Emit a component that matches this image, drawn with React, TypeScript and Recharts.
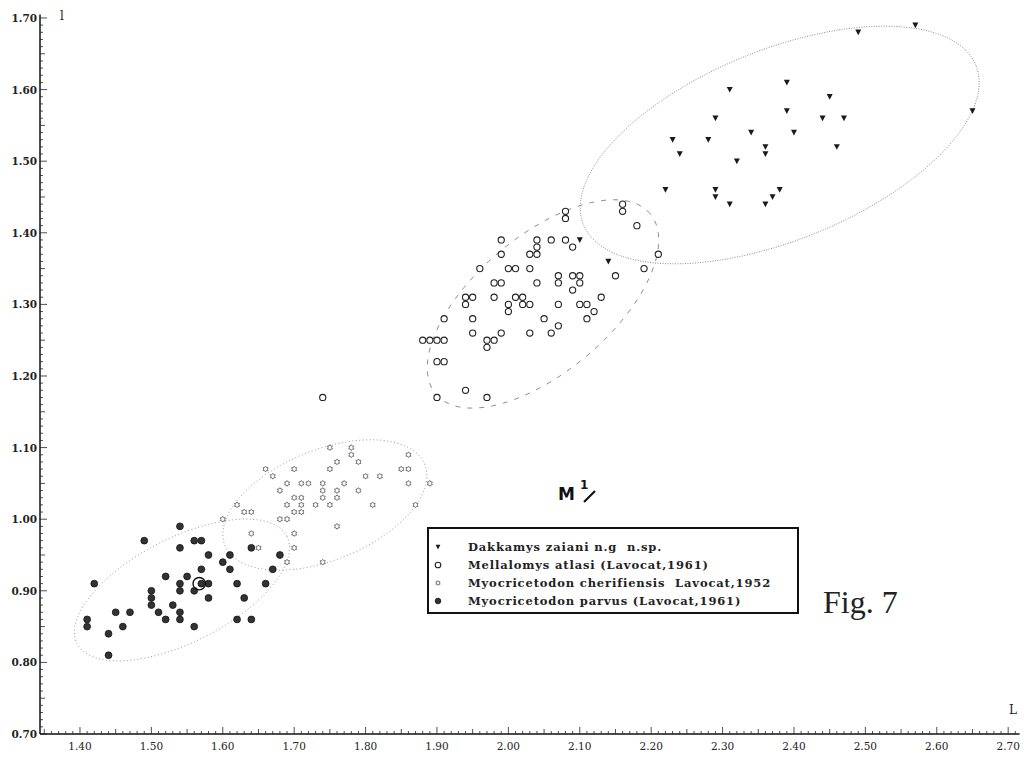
import React from 'react';
import { ScatterChart, Scatter, XAxis, YAxis } from 'recharts';

// ---------- tick labels ----------
const xTickLabels = ['1.40', '1.50', '1.60', '1.70', '1.80', '1.90', '2.00', '2.10', '2.20', '2.30', '2.40', '2.50', '2.60', '2.70'];
const yTickLabels = ['0.70', '0.80', '0.90', '1.00', '1.10', '1.20', '1.30', '1.40', '1.50', '1.60', '1.70'];

// ---------- series ----------
const dakkamys = [
  { x: 2.57, y: 1.69 }, { x: 2.49, y: 1.68 }, { x: 2.39, y: 1.61 }, { x: 2.31, y: 1.60 },
  { x: 2.45, y: 1.59 }, { x: 2.65, y: 1.57 }, { x: 2.39, y: 1.57 }, { x: 2.29, y: 1.56 },
  { x: 2.44, y: 1.56 }, { x: 2.47, y: 1.56 }, { x: 2.23, y: 1.53 }, { x: 2.28, y: 1.53 },
  { x: 2.34, y: 1.54 }, { x: 2.40, y: 1.54 }, { x: 2.24, y: 1.51 }, { x: 2.36, y: 1.52 },
  { x: 2.36, y: 1.51 }, { x: 2.32, y: 1.50 }, { x: 2.46, y: 1.52 }, { x: 2.22, y: 1.46 },
  { x: 2.29, y: 1.46 }, { x: 2.29, y: 1.45 }, { x: 2.31, y: 1.44 }, { x: 2.36, y: 1.44 },
  { x: 2.37, y: 1.45 }, { x: 2.38, y: 1.46 }, { x: 2.10, y: 1.39 }, { x: 2.14, y: 1.36 },
];

const mellalomys = [
  { x: 2.08, y: 1.43 }, { x: 2.08, y: 1.42 }, { x: 2.16, y: 1.44 }, { x: 2.16, y: 1.43 },
  { x: 2.18, y: 1.41 }, { x: 1.99, y: 1.39 }, { x: 2.04, y: 1.39 }, { x: 2.06, y: 1.39 },
  { x: 2.08, y: 1.39 }, { x: 2.09, y: 1.38 }, { x: 2.04, y: 1.38 }, { x: 1.99, y: 1.37 },
  { x: 2.03, y: 1.37 }, { x: 2.04, y: 1.37 }, { x: 2.21, y: 1.37 }, { x: 1.96, y: 1.35 },
  { x: 2.00, y: 1.35 }, { x: 2.01, y: 1.35 }, { x: 2.03, y: 1.35 }, { x: 2.19, y: 1.35 },
  { x: 2.15, y: 1.34 }, { x: 1.98, y: 1.33 }, { x: 1.99, y: 1.33 }, { x: 2.04, y: 1.33 },
  { x: 2.07, y: 1.34 }, { x: 2.07, y: 1.33 }, { x: 2.09, y: 1.34 }, { x: 2.10, y: 1.34 },
  { x: 2.10, y: 1.33 }, { x: 2.09, y: 1.32 }, { x: 1.94, y: 1.31 }, { x: 1.95, y: 1.31 },
  { x: 1.94, y: 1.30 }, { x: 1.98, y: 1.31 }, { x: 2.01, y: 1.31 }, { x: 2.02, y: 1.31 },
  { x: 2.00, y: 1.30 }, { x: 2.02, y: 1.30 }, { x: 2.03, y: 1.30 }, { x: 2.00, y: 1.29 },
  { x: 2.07, y: 1.30 }, { x: 2.10, y: 1.30 }, { x: 2.11, y: 1.30 }, { x: 2.13, y: 1.31 },
  { x: 2.12, y: 1.29 }, { x: 1.91, y: 1.28 }, { x: 1.95, y: 1.28 }, { x: 2.05, y: 1.28 },
  { x: 2.11, y: 1.28 }, { x: 2.07, y: 1.27 }, { x: 1.95, y: 1.26 }, { x: 1.99, y: 1.26 },
  { x: 2.03, y: 1.26 }, { x: 2.06, y: 1.26 }, { x: 1.97, y: 1.25 }, { x: 1.98, y: 1.25 },
  { x: 1.97, y: 1.24 }, { x: 1.88, y: 1.25 }, { x: 1.89, y: 1.25 }, { x: 1.90, y: 1.25 },
  { x: 1.91, y: 1.25 }, { x: 1.90, y: 1.22 }, { x: 1.91, y: 1.22 }, { x: 1.90, y: 1.17 },
  { x: 1.94, y: 1.18 }, { x: 1.97, y: 1.17 }, { x: 1.74, y: 1.17 },
];

const cherifiensis = [
  { x: 1.75, y: 1.10 }, { x: 1.78, y: 1.10 }, { x: 1.78, y: 1.09 }, { x: 1.86, y: 1.09 },
  { x: 1.76, y: 1.08 }, { x: 1.79, y: 1.08 }, { x: 1.66, y: 1.07 }, { x: 1.70, y: 1.07 },
  { x: 1.75, y: 1.07 }, { x: 1.85, y: 1.07 }, { x: 1.86, y: 1.07 }, { x: 1.67, y: 1.06 },
  { x: 1.80, y: 1.06 }, { x: 1.82, y: 1.06 }, { x: 1.69, y: 1.05 }, { x: 1.71, y: 1.05 },
  { x: 1.72, y: 1.05 }, { x: 1.74, y: 1.05 }, { x: 1.77, y: 1.05 }, { x: 1.86, y: 1.05 },
  { x: 1.89, y: 1.05 }, { x: 1.68, y: 1.04 }, { x: 1.74, y: 1.04 }, { x: 1.76, y: 1.04 },
  { x: 1.79, y: 1.04 }, { x: 1.70, y: 1.03 }, { x: 1.71, y: 1.03 }, { x: 1.74, y: 1.03 },
  { x: 1.76, y: 1.03 }, { x: 1.62, y: 1.02 }, { x: 1.69, y: 1.02 }, { x: 1.71, y: 1.02 },
  { x: 1.73, y: 1.02 }, { x: 1.75, y: 1.02 }, { x: 1.81, y: 1.02 }, { x: 1.87, y: 1.02 },
  { x: 1.70, y: 1.01 }, { x: 1.71, y: 1.01 }, { x: 1.63, y: 1.01 }, { x: 1.64, y: 1.01 },
  { x: 1.68, y: 1.00 }, { x: 1.69, y: 1.00 }, { x: 1.60, y: 1.00 }, { x: 1.76, y: 0.99 },
  { x: 1.70, y: 0.98 }, { x: 1.64, y: 0.98 }, { x: 1.70, y: 0.96 }, { x: 1.65, y: 0.96 },
  { x: 1.69, y: 0.94 }, { x: 1.74, y: 0.94 },
];

const parvus = [
  { x: 1.54, y: 0.99 }, { x: 1.49, y: 0.97 }, { x: 1.56, y: 0.97 }, { x: 1.57, y: 0.97 },
  { x: 1.54, y: 0.96 }, { x: 1.58, y: 0.95 }, { x: 1.61, y: 0.95 }, { x: 1.60, y: 0.94 },
  { x: 1.61, y: 0.93 }, { x: 1.57, y: 0.93 }, { x: 1.64, y: 0.96 }, { x: 1.68, y: 0.95 },
  { x: 1.67, y: 0.93 }, { x: 1.52, y: 0.92 }, { x: 1.55, y: 0.92 }, { x: 1.54, y: 0.91 },
  { x: 1.54, y: 0.90 }, { x: 1.56, y: 0.90 }, { x: 1.57, y: 0.91 }, { x: 1.58, y: 0.91 },
  { x: 1.58, y: 0.89 }, { x: 1.62, y: 0.91 }, { x: 1.66, y: 0.91 }, { x: 1.63, y: 0.89 },
  { x: 1.42, y: 0.91 }, { x: 1.50, y: 0.90 }, { x: 1.50, y: 0.89 }, { x: 1.50, y: 0.88 },
  { x: 1.53, y: 0.88 }, { x: 1.51, y: 0.87 }, { x: 1.54, y: 0.87 }, { x: 1.54, y: 0.86 },
  { x: 1.52, y: 0.86 }, { x: 1.56, y: 0.85 }, { x: 1.45, y: 0.87 }, { x: 1.47, y: 0.87 },
  { x: 1.46, y: 0.85 }, { x: 1.41, y: 0.86 }, { x: 1.41, y: 0.85 }, { x: 1.44, y: 0.84 },
  { x: 1.44, y: 0.81 }, { x: 1.62, y: 0.86 }, { x: 1.64, y: 0.86 },
];

const holotype = [{ x: 1.567, y: 0.91 }];

// ---------- envelope ellipses (centre x, centre y, semi-axis a, semi-axis b, tilt deg) ----------
const dakkamysEnvelope = [2.38, 1.5226, 0.2965, 0.133, 22];
const mellalomysEnvelope = [2.0485, 1.3006, 0.196, 0.095, 40];
const cherifiensisEnvelope = [1.743, 1.0198, 0.151, 0.077, 22];
const parvusEnvelope = [1.5429, 0.9011, 0.165, 0.0727, 27];

const legendLabels = [
  'Dakkamys zaiani n.g  n.sp.',
  'Mellalomys atlasi (Lavocat,1961)',
  'Myocricetodon cherifiensis  Lavocat,1952',
  'Myocricetodon parvus (Lavocat,1961)',
];

// ---------- helpers ----------
const X_MIN = 1.344;
const X_MAX = 2.716;
const Y_MIN = 0.7;
const Y_MAX = 1.705;

const xMinorTicks: number[] = [];
for (let k = 135; k <= 271; k++) xMinorTicks.push(k / 100);
const yMinorTicks: number[] = [];
for (let k = 70; k <= 170; k++) yMinorTicks.push(k / 100);

function outline(p: number[]) {
  const [cx, cy, a, b, deg] = p;
  const th = (deg * Math.PI) / 180;
  const pts: { x: number; y: number }[] = [];
  const n = 120;
  for (let i = 0; i <= n; i++) {
    const t = (i / n) * Math.PI * 2;
    pts.push({
      x: cx + a * Math.cos(t) * Math.cos(th) - b * Math.sin(t) * Math.sin(th),
      y: cy + a * Math.cos(t) * Math.sin(th) + b * Math.sin(t) * Math.cos(th),
    });
  }
  return pts;
}

const FONT = '"DejaVu Serif", "Liberation Serif", serif';

const XTick = (props: any) => {
  const { x, y, payload } = props;
  const k = Math.round(payload.value * 100);
  const len = k % 10 === 0 ? 7 : k % 5 === 0 ? 5 : 3;
  const label = xTickLabels.find((l) => Math.round(parseFloat(l) * 100) === k);
  return (
    <g>
      <line x1={x} y1={y} x2={x} y2={y - len} stroke="#222" strokeWidth={0.8} />
      {label && (
        <text x={x} y={y + 16} textAnchor="middle" fontSize={10.5} fontFamily={FONT} fill="#222">
          {label}
        </text>
      )}
    </g>
  );
};

const YTick = (props: any) => {
  const { x, y, payload } = props;
  const k = Math.round(payload.value * 100);
  const len = k % 10 === 0 ? 7 : k % 5 === 0 ? 5 : 3;
  const label = yTickLabels.find((l) => Math.round(parseFloat(l) * 100) === k);
  return (
    <g>
      <line x1={x} y1={y} x2={x + len} y2={y} stroke="#222" strokeWidth={0.8} />
      {label && (
        <text x={x - 3} y={y + 4} textAnchor="end" fontSize={10.5} fontWeight="bold" fontFamily={FONT} fill="#222">
          {label}
        </text>
      )}
    </g>
  );
};

const triangle = (cx: number, cy: number, s = 1) => (
  <path d={`M${cx - 3 * s},${cy - 2.7 * s} L${cx + 3 * s},${cy - 2.7 * s} L${cx},${cy + 3 * s} Z`} fill="#1a1a1a" />
);
const openCircle = (cx: number, cy: number, r = 3.1) => (
  <circle cx={cx} cy={cy} r={r} fill="#fff" stroke="#222" strokeWidth={1.1} />
);
const star = (cx: number, cy: number, r = 2.9) => {
  let d = '';
  for (let i = 0; i < 12; i++) {
    const ang = (i * Math.PI) / 6 - Math.PI / 2;
    const rr = i % 2 === 0 ? r : r * 0.62;
    d += `${i === 0 ? 'M' : 'L'}${cx + rr * Math.cos(ang)},${cy + rr * Math.sin(ang)} `;
  }
  return <path d={d + 'Z'} fill="#fff" stroke="#666" strokeWidth={0.9} />;
};
const filledCircle = (cx: number, cy: number, r = 3.4) => (
  <circle cx={cx} cy={cy} r={r} fill="#333" stroke="#111" strokeWidth={0.8} />
);

const noShape = () => <g />;

export default function App() {
  return (
    <div style={{ position: 'absolute', left: 0, top: 0, width: 1024, height: 759, background: '#fff' }}>
      <ScatterChart width={1024} height={759} margin={{ top: 14.4, right: 4.4, bottom: 0, left: 0 }}>
        <XAxis
          type="number"
          dataKey="x"
          domain={[X_MIN, X_MAX]}
          ticks={xMinorTicks}
          interval={0}
          tick={XTick}
          tickLine={false}
          tickSize={0}
          tickMargin={0}
          height={25}
          allowDataOverflow
          axisLine={{ stroke: '#111', strokeWidth: 1.5 }}
        />
        <YAxis
          type="number"
          dataKey="y"
          domain={[Y_MIN, Y_MAX]}
          ticks={yMinorTicks}
          interval={0}
          tick={YTick}
          tickLine={false}
          tickSize={0}
          tickMargin={0}
          width={40}
          allowDataOverflow
          axisLine={{ stroke: '#111', strokeWidth: 1.5 }}
        />
        <Scatter data={outline(dakkamysEnvelope)} line={{ stroke: '#8c8c8c', strokeWidth: 1, strokeDasharray: '1 1.5' }} lineType="joint" shape={noShape} isAnimationActive={false} />
        <Scatter data={outline(mellalomysEnvelope)} line={{ stroke: '#8c8c8c', strokeWidth: 1, strokeDasharray: '5 7' }} lineType="joint" shape={noShape} isAnimationActive={false} />
        <Scatter data={outline(cherifiensisEnvelope)} line={{ stroke: '#9a9a9a', strokeWidth: 1, strokeDasharray: '1 2.5' }} lineType="joint" shape={noShape} isAnimationActive={false} />
        <Scatter data={outline(parvusEnvelope)} line={{ stroke: '#9a9a9a', strokeWidth: 1, strokeDasharray: '1 2.5' }} lineType="joint" shape={noShape} isAnimationActive={false} />
        <Scatter name={legendLabels[2]} data={cherifiensis} shape={(p: any) => star(p.cx, p.cy)} isAnimationActive={false} />
        <Scatter name={legendLabels[1]} data={mellalomys} shape={(p: any) => openCircle(p.cx, p.cy)} isAnimationActive={false} />
        <Scatter name={legendLabels[3]} data={parvus} shape={(p: any) => filledCircle(p.cx, p.cy)} isAnimationActive={false} />
        <Scatter name={legendLabels[0]} data={dakkamys} shape={(p: any) => triangle(p.cx, p.cy)} isAnimationActive={false} />
        <Scatter data={holotype} shape={(p: any) => <circle cx={p.cx} cy={p.cy} r={6.2} fill="none" stroke="#111" strokeWidth={1.4} />} isAnimationActive={false} />
      </ScatterChart>

      {/* axis letters */}
      <div style={{ position: 'absolute', left: 60, top: 9, fontFamily: FONT, fontSize: 12, color: '#222' }}>l</div>
      <div style={{ position: 'absolute', left: 1009, top: 703, fontFamily: FONT, fontSize: 12, color: '#222' }}>L</div>

      {/* M1/ */}
      <svg style={{ position: 'absolute', left: 550, top: 470 }} width={60} height={40}>
        <text x={8} y={30} fontFamily="DejaVu Sans, sans-serif" fontWeight="bold" fontSize={17} fill="#111">M</text>
        <text x={30} y={19} fontFamily="DejaVu Sans, sans-serif" fontWeight="bold" fontSize={12} fill="#111">1</text>
        <line x1={34} y1={32} x2={45} y2={21} stroke="#111" strokeWidth={2.2} />
      </svg>

      {/* legend */}
      <svg style={{ position: 'absolute', left: 427, top: 527 }} width={372} height={87}>
        <rect x={1} y={1} width={370} height={85} fill="#fff" stroke="#111" strokeWidth={2} />
        {triangle(11, 20, 0.8)}
        {openCircle(11, 38, 2.8)}
        {star(11, 56, 2.4)}
        {filledCircle(11, 74, 2.8)}
        {legendLabels.map((t, i) => (
          <text key={t} x={41} y={24 + i * 18} fontFamily={FONT} fontSize={11.5} fontWeight="bold" letterSpacing={0.85} fill="#222" style={{ whiteSpace: 'pre' }}>
            {t}
          </text>
        ))}
      </svg>

      {/* figure label */}
      <div style={{ position: 'absolute', left: 823, top: 584, fontFamily: '"Liberation Serif", serif', fontSize: 32, color: '#222', whiteSpace: 'nowrap' }}>
        Fig. 7
      </div>
    </div>
  );
}
